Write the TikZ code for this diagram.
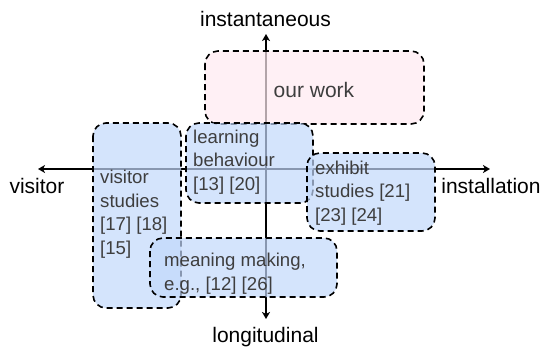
\documentclass[tikz,border=0pt]{standalone}
\usepackage{fontspec}
\setmainfont{Liberation Sans}
\usetikzlibrary{arrows.meta}
\definecolor{boxblue}{RGB}{194,216,251}
\definecolor{boxpink}{RGB}{255,234,241}
\definecolor{boxtext}{RGB}{62,62,62}

\begin{document}
\begin{tikzpicture}[x=1pt,y=-1pt,
  area/.style={draw=black, line width=1.6pt, dash pattern=on 6pt off 4pt,
    rounded corners=13pt, fill opacity=0.7},
  bluearea/.style={area, fill=boxblue},
  pinkarea/.style={area, fill=boxpink},
  boxlabel/.style={text=boxtext, font=\fontsize{18.6}{23.5}\selectfont,
    align=left, inner sep=0pt, anchor=base west},
  axislabel/.style={font=\fontsize{21}{25}\selectfont, inner sep=0pt},
  axisline/.style={line width=1.4pt,
    {Stealth[length=7pt,width=8pt,inset=2pt]}-{Stealth[length=7pt,width=8pt,inset=2pt]}}
]
\useasboundingbox (0,0) rectangle (543,349);

% axis labels
\node[axislabel] (instantaneous) at (265.5,19) {instantaneous};
\node[axislabel] (longitudinal)  at (265.5,337) {longitudinal};
\node[axislabel] (visitor)       at (37,186) {visitor};
\node[axislabel] (installation)  at (491,186) {installation};

% arrow tips of the two axes
\coordinate (north) at (266,34);
\coordinate (south) at (266,319);
\coordinate (west)  at (38,169);
\coordinate (east)  at (490,169);

\draw[axisline] (west) -- (east);
\draw[axisline] (south) -- (north);

% research areas
\draw[pinkarea] (205,51) rectangle (424,124);
\draw[bluearea] (186,123) rectangle (313,203);
\draw[bluearea] (93,123) rectangle (181,308);
\draw[bluearea] (307,153) rectangle (435,231);
\draw[bluearea] (150,238) rectangle (337,297);

% area labels (anchored at the baseline of their last line)
\node[boxlabel, font=\fontsize{21}{25}\selectfont, anchor=center] (ourwork) at (314,90) {our work};
\node[boxlabel] (learning) at (193,190) {learning\\behaviour\\{[13]} [20]};
\node[boxlabel] (visitorstudies) at (100,254) {visitor\\studies\\{[17]} [18]\\{[15]}};
\node[boxlabel] (exhibit) at (315,221) {exhibit\\studies [21]\\{[23]} [24]};
\node[boxlabel] (meaning) at (164,290) {meaning making,\\e.g., [12] [26]};
\end{tikzpicture}
\end{document}
